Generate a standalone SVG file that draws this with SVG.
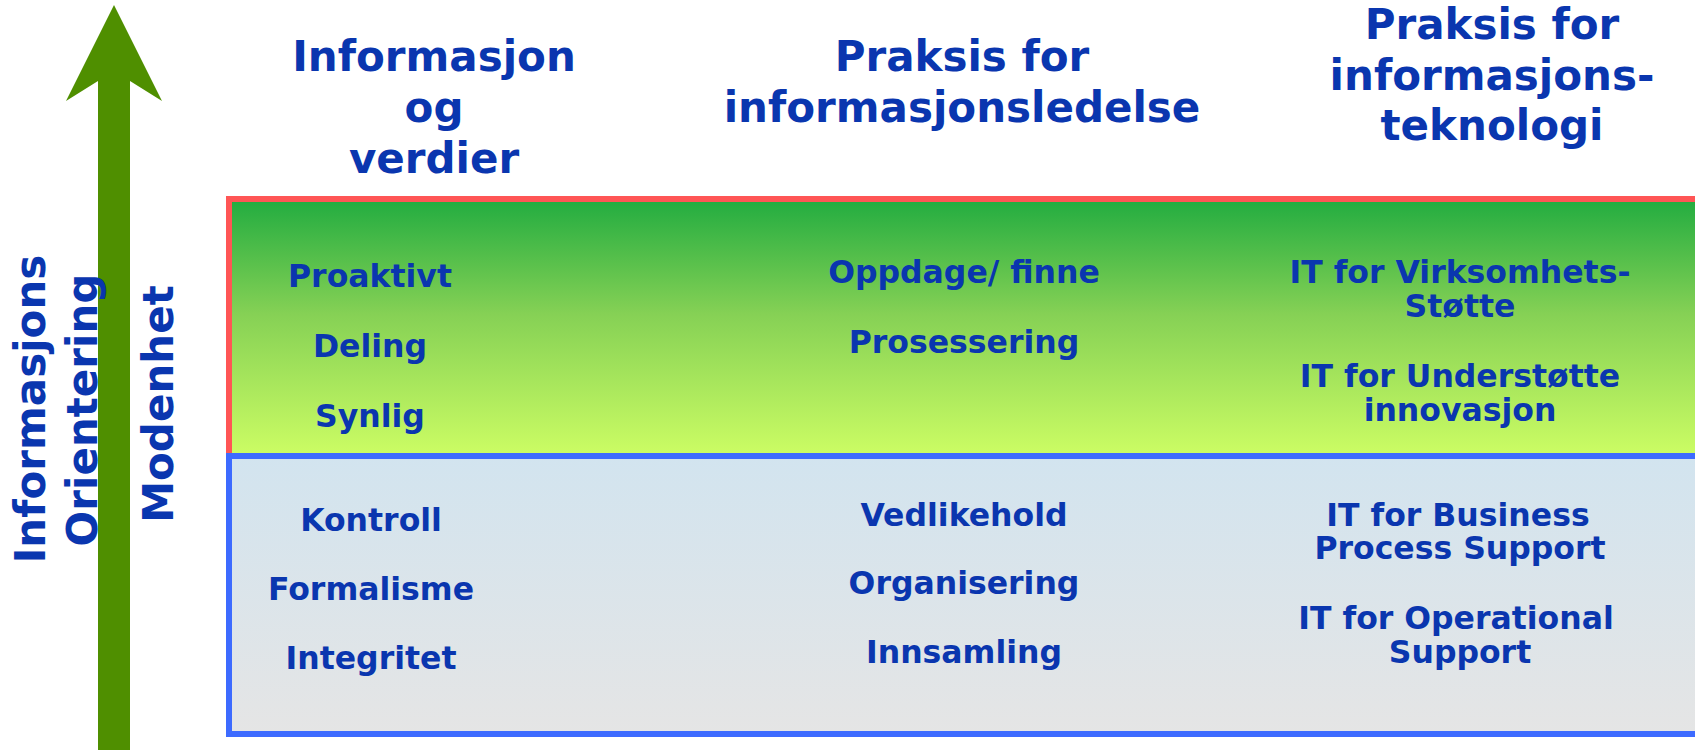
<svg xmlns="http://www.w3.org/2000/svg" width="1695" height="750" viewBox="0 0 1695 750">
  <defs>
    <linearGradient id="gTop" x1="0" y1="0" x2="0" y2="1">
      <stop offset="0" stop-color="#22AC40"/>
      <stop offset="0.45" stop-color="#86D155"/>
      <stop offset="1" stop-color="#CCFD64"/>
    </linearGradient>
    <linearGradient id="gBot" x1="0" y1="0" x2="0" y2="1">
      <stop offset="0" stop-color="#D2E4EF"/>
      <stop offset="1" stop-color="#E5E5E5"/>
    </linearGradient>
    <style>
      text { font-family: "DejaVu Sans", Verdana, sans-serif; font-weight: bold; fill: #0A36AF; text-anchor: middle; }
      .hdr { font-size: 42px; }
      .side { font-size: 42px; }
      .cell { font-size: 31.5px; }
    </style>
  </defs>
  <rect width="1695" height="750" fill="#FFFFFF"/>

  <g id="band-upper">
    <rect x="229" y="199" width="1480" height="257" fill="url(#gTop)" stroke="#FF5555" stroke-width="6"/>
  </g>
  <g id="band-lower">
    <rect x="229" y="456" width="1480" height="278" fill="url(#gBot)" stroke="#3D6BFF" stroke-width="6"/>
  </g>

  <g id="axis-arrow">
    <polygon points="114,5 162,101 130,81 130,750 98,750 98,81 66,101" fill="#4F8F00"/>
  </g>

  <g id="axis-labels">
    <text class="side" transform="translate(45,409) rotate(-90)">Informasjons</text>
    <text class="side" transform="translate(97,410) rotate(-90)">Orientering</text>
    <text class="side" transform="translate(173,404) rotate(-90)">Modenhet</text>
  </g>

  <g id="header-1">
    <text class="hdr" x="434" y="71">Informasjon</text>
    <text class="hdr" x="434" y="122">og</text>
    <text class="hdr" x="434" y="173">verdier</text>
  </g>
  <g id="header-2">
    <text class="hdr" x="962" y="71">Praksis for</text>
    <text class="hdr" x="962" y="122">informasjonsledelse</text>
  </g>
  <g id="header-3">
    <text class="hdr" x="1492" y="39">Praksis for</text>
    <text class="hdr" x="1492" y="90">informasjons-</text>
    <text class="hdr" x="1492" y="140">teknologi</text>
  </g>

  <g id="upper-col1">
    <text class="cell" x="370" y="287">Proaktivt</text>
    <text class="cell" x="370" y="357">Deling</text>
    <text class="cell" x="370" y="427">Synlig</text>
  </g>
  <g id="upper-col2">
    <text class="cell" x="964" y="283">Oppdage/ finne</text>
    <text class="cell" x="964" y="353">Prosessering</text>
  </g>
  <g id="upper-col3">
    <text class="cell" x="1460" y="283">IT for Virksomhets-</text>
    <text class="cell" x="1460" y="317">Støtte</text>
    <text class="cell" x="1460" y="387">IT for Understøtte</text>
    <text class="cell" x="1460" y="421">innovasjon</text>
  </g>

  <g id="lower-col1">
    <text class="cell" x="371" y="531">Kontroll</text>
    <text class="cell" x="371" y="600">Formalisme</text>
    <text class="cell" x="371" y="669">Integritet</text>
  </g>
  <g id="lower-col2">
    <text class="cell" x="964" y="526">Vedlikehold</text>
    <text class="cell" x="964" y="594">Organisering</text>
    <text class="cell" x="964" y="663">Innsamling</text>
  </g>
  <g id="lower-col3">
    <text class="cell" x="1458" y="526">IT for Business</text>
    <text class="cell" x="1460" y="559">Process Support</text>
    <text class="cell" x="1456" y="629">IT for Operational</text>
    <text class="cell" x="1460" y="663">Support</text>
  </g>

  <g id="connectors"></g>
</svg>
